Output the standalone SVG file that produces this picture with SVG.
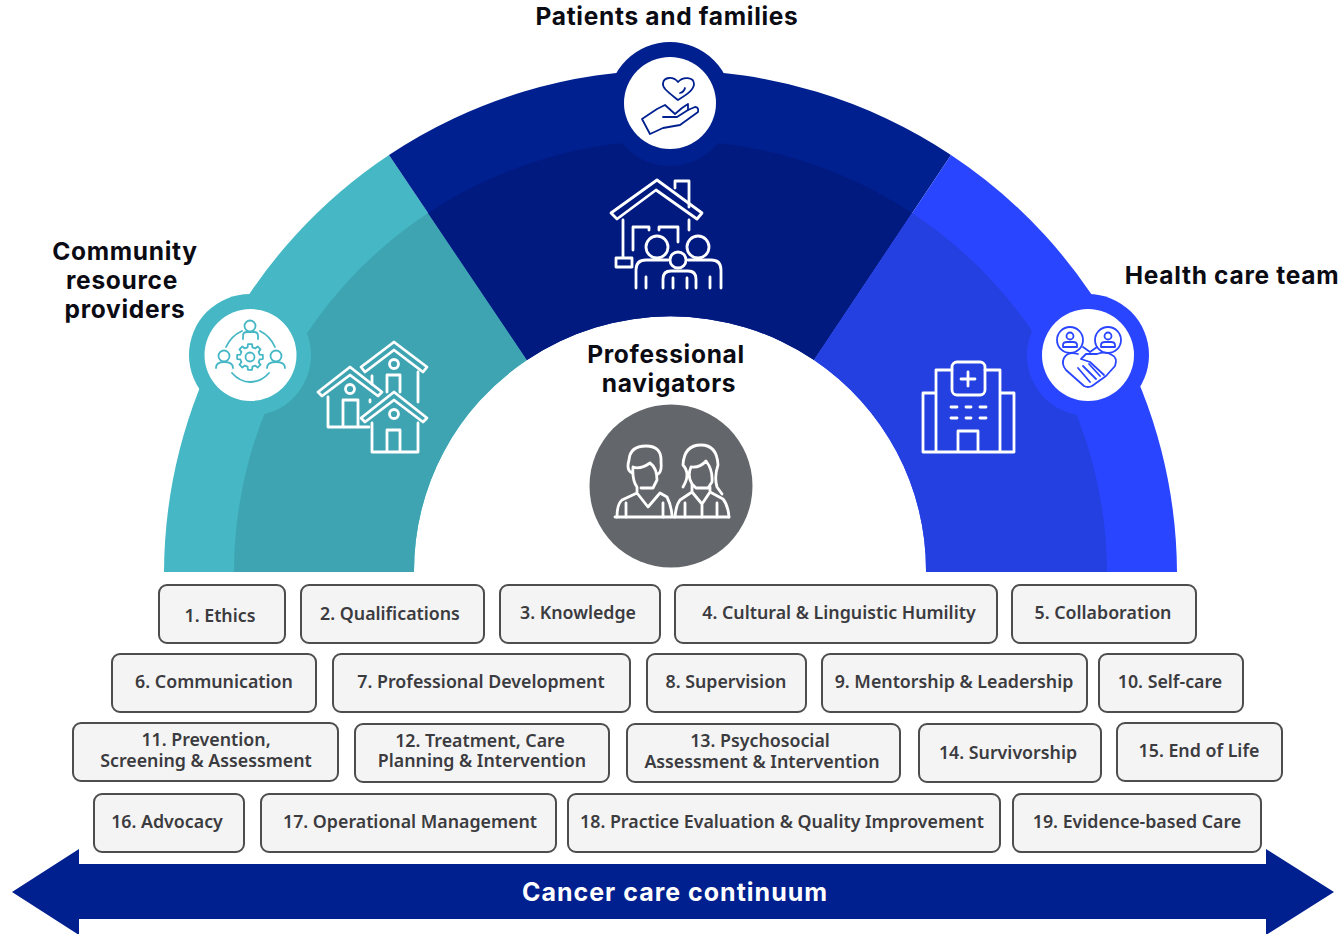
<svg xmlns="http://www.w3.org/2000/svg" width="1340" height="934" viewBox="0 0 1340 934">
<style>
.h{font-family:Inter,"Liberation Sans",sans-serif;font-weight:700;font-size:24.5px;letter-spacing:.7px;fill:#0b0b14;text-anchor:middle}
.b{fill:#f4f4f4;stroke:#4d4d4d;stroke-width:2}
.t{font-family:"Noto Sans","Liberation Sans",sans-serif;font-weight:600;font-size:17.800px;fill:#3b3b40;text-anchor:middle}
.w{fill:none;stroke:#fff;stroke-width:2.800;stroke-linejoin:round;stroke-linecap:round}
.i{fill:none;stroke-width:1.800;stroke-linejoin:round;stroke-linecap:round}
</style>
<rect width="1340" height="934" fill="#fff"/>
<g id="arch">
<path d="M164 572A506 504 0 0 1 389 155L527 360A256 254 0 0 0 414 572Z" fill="#45b7c5"/>
<path d="M234 572A436 432 0 0 1 428 213L527 360A256 254 0 0 0 414 572Z" fill="#3fa4b1"/>
<path d="M389 155A506 504 0 0 1 951 155L814 360A256 254 0 0 0 527 360Z" fill="#00208f"/>
<path d="M428 213A436 432 0 0 1 912 213L814 360A256 254 0 0 0 527 360Z" fill="#001a80"/>
<path d="M951 155A506 504 0 0 1 1177 572H926A256 254 0 0 0 814 360Z" fill="#2a45ff"/>
<path d="M912 213A436 432 0 0 1 1107 572H926A256 254 0 0 0 814 360Z" fill="#2540e0"/>
</g>
<g id="community-resource-providers">
<circle cx="250" cy="355" r="61" fill="#45b7c5"/>
<circle cx="250.500" cy="355" r="46" fill="#fff"/>
<g class="i" stroke="#45b7c5">
<circle cx="250" cy="326" r="5.500"/><path d="M243 339V336Q243 332 247 332H254Q258 332 258 336V339"/>
<circle cx="224" cy="356" r="5.500"/><path d="M216 368Q216 362 224 362Q233 362 233 368"/>
<circle cx="276" cy="356" r="5.500"/><path d="M267 368Q267 362 276 362Q285 362 285 368"/>
<path d="M226 347Q231 336 242 331M260 331Q270 336 275 347M232 373Q240 382 250 382Q261 382 269 373"/>
<g transform="translate(250 357)"><circle r="4.500"/>
<polygon points="9.7,-2.42 12.84,-2.03 12.84,2.03 9.7,2.42 8.57,5.15 10.52,7.64 7.64,10.52 5.15,8.57 2.42,9.7 2.03,12.84 -2.03,12.84 -2.42,9.7 -5.15,8.57 -7.64,10.52 -10.52,7.64 -8.57,5.15 -9.7,2.42 -12.84,2.03 -12.84,-2.03 -9.7,-2.42 -8.57,-5.15 -10.52,-7.64 -7.64,-10.52 -5.15,-8.57 -2.42,-9.7 -2.03,-12.84 2.03,-12.84 2.42,-9.7 5.15,-8.57 7.64,-10.52 10.52,-7.64 8.57,-5.15"/></g>
</g>
<text class="h"><tspan x="125" y="260">Community</tspan><tspan x="122" y="289">resource</tspan><tspan x="125" y="318">providers</tspan></text>
<g class="w">
<path d="M394 342L427 367L423 372L394 350L365 372L361 367ZM372 376V384M418 372V402M387 392V375H400V392"/><circle cx="394" cy="364" r="4.500"/>
<path d="M350 367L382 392L378 396L350 375L322 396L318 392ZM328 397V427H369M370 400V402M343 427V400H358V427"/><circle cx="350" cy="389" r="4.500"/>
<path d="M394 392L427 418L423 422L394 400L365 422L361 418ZM372 423V452H418V423M387 452V430H400V452"/><circle cx="394" cy="414" r="4.500"/>
</g>
</g>
<g id="patients-and-families">
<circle cx="670" cy="104" r="62" fill="#00208f"/>
<circle cx="670" cy="103" r="46" fill="#fff"/>
<g class="i" stroke="#00208f">
<path d="M678 100C668 92 662 88 663 83C664 77 673 76 678 82C683 76 694 77 694 84C694 90 686 95 678 100Z"/>
<path d="M642 119L650 134L663 128L680 125L698 112Q699 107 695 107L688 110L688 104L682 108L675 114L665 105L657 109Z"/>
<path d="M663 117L677 117L688 110M685 88Q684 92 680 93"/>
</g>
<text class="h" x="667" y="25">Patients and families</text>
<g class="w">
<path d="M657 180L702 213L697 219L656 190L617 219L611 213Z"/>
<path d="M675 188V181H689V207M623 220V257M616 258H632V267H616ZM689 220V230M633 250V227H649V230M659 230V227H678V242"/>
<circle cx="657" cy="247" r="11"/><circle cx="698" cy="247" r="11"/><circle cx="678" cy="260" r="8"/>
<path d="M636 288V270Q636 260 646 260H668M663 288V279Q663 271 671 271H688Q696 271 696 279V288M721 288V270Q721 260 711 260H688M646 277V288M673 278V288M687 278V288M710 277V288"/>
</g>
</g>
<g id="health-care-team">
<circle cx="1088" cy="355" r="61" fill="#2a45ff"/>
<circle cx="1088" cy="355" r="46" fill="#fff"/>
<g class="i" stroke="#2a45ff">
<circle cx="1070" cy="340" r="13"/><circle cx="1108" cy="340" r="13"/>
<circle cx="1070" cy="336" r="3.500"/><path d="M1063 347V345Q1063 342 1067 342H1073Q1077 342 1077 345V347Z"/>
<circle cx="1108" cy="336" r="3.500"/><path d="M1101 347V345Q1101 342 1105 342H1111Q1115 342 1115 345V347Z"/>
<path d="M1083 347L1090 352L1097 347"/>
<path d="M1078 354Q1068 351 1064 358Q1061 364 1066 370L1084 386Q1088 388 1092 386L1106 376L1115 366Q1118 358 1112 355Q1106 351 1097 354L1086 354L1081 359L1090 362L1104 375"/>
<path d="M1078 368L1090 382M1083 366L1096 379M1089 364L1100 376"/>
</g>
<text class="h" x="1232" y="284">Health care team</text>
<g class="w">
<path d="M923 393H936V452H923ZM1014 393H1000V452H1014ZM936 370H952M985 370H1000V452H936V370M958 452V431H978V452"/>
<rect x="952" y="362" width="33" height="33" rx="5"/>
<path d="M968 372V386M961 379H975M951 407H957M966 407H971M980 407H986M951 418H957M966 418H971M980 418H986"/>
</g>
</g>
<g id="professional-navigators">
<circle cx="671" cy="486" r="81.500" fill="#63666a"/>
<text class="h"><tspan x="666" y="363">Professional</tspan><tspan x="669" y="392">navigators</tspan></text>
<g class="w" stroke-width="2.200">
<path d="M615 517H729"/>
<path d="M617 517Q617 504 622 500L637 493L648 507L660 493L667 497Q671 505 672 515M637 493V487Q632 480 633 467Q640 470 650 463Q657 468 657 480L653 488H641M632 473Q626 470 629 460Q630 446 646 446Q662 446 661 462Q662 472 658 474M626 503V517M663 503V517"/>
<path d="M675 517Q676 505 680 500L692 492L702 504L710 492L723 499Q728 505 729 517M692 492V484Q687 476 691 467Q700 468 706 461Q713 470 712 482L708 488H696L692 484M710 492V487M683 487Q691 474 683 465Q684 445 701 445Q717 445 718 465Q714 477 717 487L722 494M685 503V517M702 504V517M717 503V517"/>
</g>
</g>
<g id="competencies">
<g id="c1"><rect class="b" x="159" y="585" width="126" height="58" rx="8"/><text class="t" x="220" y="622">1. Ethics</text></g>
<g id="c2"><rect class="b" x="301" y="585" width="183" height="58" rx="8"/><text class="t" x="390" y="620">2. Qualifications</text></g>
<g id="c3"><rect class="b" x="500" y="585" width="160" height="58" rx="8"/><text class="t" x="578" y="619">3. Knowledge</text></g>
<g id="c4"><rect class="b" x="675" y="585" width="322" height="58" rx="8"/><text class="t" x="839" y="619">4. Cultural &amp; Linguistic Humility</text></g>
<g id="c5"><rect class="b" x="1012" y="585" width="184" height="58" rx="8"/><text class="t" x="1103" y="619">5. Collaboration</text></g>
<g id="c6"><rect class="b" x="112" y="654" width="204" height="58" rx="8"/><text class="t" x="214" y="688">6. Communication</text></g>
<g id="c7"><rect class="b" x="333" y="654" width="297" height="58" rx="8"/><text class="t" x="481" y="688">7. Professional Development</text></g>
<g id="c8"><rect class="b" x="647" y="654" width="159" height="58" rx="8"/><text class="t" x="726" y="688">8. Supervision</text></g>
<g id="c9"><rect class="b" x="822" y="654" width="265" height="58" rx="8"/><text class="t" x="954" y="688">9. Mentorship &amp; Leadership</text></g>
<g id="c10"><rect class="b" x="1099" y="654" width="144" height="58" rx="8"/><text class="t" x="1170" y="688">10. Self-care</text></g>
<g id="c11"><rect class="b" x="73" y="723" width="265" height="58" rx="8"/><text class="t"><tspan x="206" y="746">11. Prevention,</tspan><tspan x="206" y="767">Screening &amp; Assessment</tspan></text></g>
<g id="c12"><rect class="b" x="355" y="724" width="254" height="58" rx="8"/><text class="t"><tspan x="480" y="747">12. Treatment, Care</tspan><tspan x="482" y="767">Planning &amp; Intervention</tspan></text></g>
<g id="c13"><rect class="b" x="627" y="724" width="273" height="58" rx="8"/><text class="t"><tspan x="760" y="747">13. Psychosocial</tspan><tspan x="762" y="768">Assessment &amp; Intervention</tspan></text></g>
<g id="c14"><rect class="b" x="919" y="724" width="182" height="58" rx="8"/><text class="t" x="1008" y="759">14. Survivorship</text></g>
<g id="c15"><rect class="b" x="1117" y="723" width="165" height="58" rx="8"/><text class="t" x="1199" y="757">15. End of Life</text></g>
<g id="c16"><rect class="b" x="94" y="794" width="150" height="58" rx="8"/><text class="t" x="167" y="828">16. Advocacy</text></g>
<g id="c17"><rect class="b" x="261" y="794" width="295" height="58" rx="8"/><text class="t" x="410" y="828">17. Operational Management</text></g>
<g id="c18"><rect class="b" x="568" y="794" width="432" height="58" rx="8"/><text class="t" x="782" y="828">18. Practice Evaluation &amp; Quality Improvement</text></g>
<g id="c19"><rect class="b" x="1013" y="794" width="248" height="58" rx="8"/><text class="t" x="1137" y="828">19. Evidence-based Care</text></g>
</g>
<g id="connectors">
<path id="continuum-arrow" d="M12 892L79 849V864H1266V849L1334 892L1266 935V919H79V935Z" fill="#00208f"/>
</g>
<text x="675" y="901" font-family="Inter,'Liberation Sans',sans-serif" font-weight="700" font-size="25" letter-spacing="1" fill="#fff" text-anchor="middle">Cancer care continuum</text>
</svg>
